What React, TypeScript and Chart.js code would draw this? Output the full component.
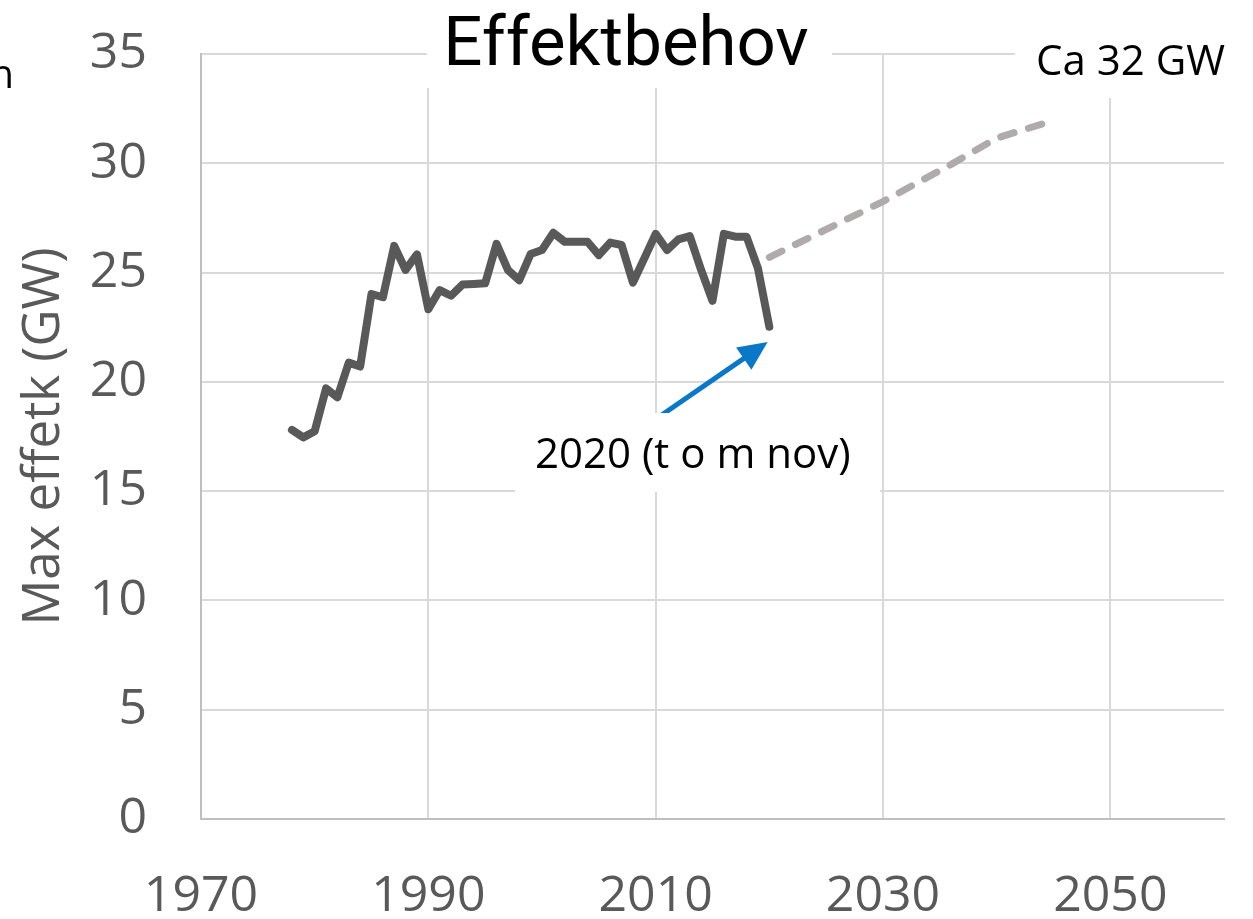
import React, { useEffect, useRef } from "react";
import { Chart, registerables } from "chart.js";

Chart.register(...registerables);

// ---------- data ----------
const histYears = [
  1978, 1979, 1980, 1981, 1982, 1983, 1984, 1985, 1986, 1987, 1988, 1989,
  1990, 1991, 1992, 1993, 1994, 1995, 1996, 1997, 1998, 1999, 2000, 2001,
  2002, 2003, 2004, 2005, 2006, 2007, 2008, 2009, 2010, 2011, 2012, 2013,
  2014, 2015, 2016, 2017, 2018, 2019, 2020,
];
const histValues = [
  17.8, 17.46, 17.74, 19.7, 19.29, 20.88, 20.7, 24.02, 23.87, 26.22, 25.12, 25.83,
  23.32, 24.2, 23.94, 24.45, 24.48, 24.51, 26.31, 25.12, 24.65, 25.85, 26.03, 26.82,
  26.41, 26.41, 26.41, 25.8, 26.37, 26.26, 24.54, 25.65, 26.77, 26.03, 26.52, 26.67,
  25.12, 23.71, 26.77, 26.64, 26.64, 25.19, 22.52,
];
const forecastYears = [2020, 2030, 2036, 2040, 2044];
const forecastValues = [25.7, 28.25, 29.95, 31.15, 31.8];

const xTickValues = [1970, 1990, 2010, 2030, 2050];
const xMin = 1970;
const xMax = 2060;
const yMin = 0;
const yMax = 35;
const yStep = 5;

const chartTitle = "Effektbehov";
const yAxisTitle = "Max effetk (GW)";
const forecastLabel = "Ca 32 GW";
const arrowLabel = "2020 (t o m nov)";
const croppedLabel = "n";
const arrowTail = { x: 2007.5, y: 17.4 };
const arrowTip = { x: 2019.85, y: 21.82 };

// ---------- styles ----------
const FONT = "'Open Sans', 'Noto Sans', sans-serif";
const AXIS_TEXT = "#595959";
const GRID = "#D9D9D9";
const AXIS_LINE = "#BFBFBF";

const overlayPlugin = {
  id: "overlay",
  afterDatasetsDraw(chart: any) {
    const { ctx } = chart;
    const xs = chart.scales.x;
    const ys = chart.scales.y;
    ctx.save();

    // arrow
    const x0 = xs.getPixelForValue(arrowTail.x);
    const y0 = ys.getPixelForValue(arrowTail.y);
    const x1 = xs.getPixelForValue(arrowTip.x);
    const y1 = ys.getPixelForValue(arrowTip.y);
    const ang = Math.atan2(y1 - y0, x1 - x0);
    const hl = 29;
    const hw = 13.5;
    const bx = x1 - hl * Math.cos(ang);
    const by = y1 - hl * Math.sin(ang);
    ctx.strokeStyle = "#0A78C8";
    ctx.fillStyle = "#0A78C8";
    ctx.lineWidth = 5;
    ctx.beginPath();
    ctx.moveTo(x0, y0);
    ctx.lineTo(bx + 2 * Math.cos(ang), by + 2 * Math.sin(ang));
    ctx.stroke();
    ctx.beginPath();
    ctx.moveTo(x1, y1);
    ctx.lineTo(bx - hw * Math.sin(ang), by + hw * Math.cos(ang));
    ctx.lineTo(bx + hw * Math.sin(ang), by - hw * Math.cos(ang));
    ctx.closePath();
    ctx.fill();

    // white label boxes
    ctx.fillStyle = "#FFFFFF";
    ctx.fillRect(427, 0, 405, 88);
    ctx.fillRect(1015, 0, 238, 98);
    ctx.fillRect(515, 413, 365, 79);

    // texts
    ctx.fillStyle = "#000000";
    ctx.textBaseline = "alphabetic";
    ctx.font = "69px Roboto, 'Open Sans', sans-serif";
    ctx.textAlign = "center";
    ctx.fillText(chartTitle, 626, 65);

    ctx.font = `42px ${FONT}`;
    ctx.textAlign = "right";
    ctx.fillText(forecastLabel, 1225, 75);
    ctx.textAlign = "left";
    ctx.fillText(arrowLabel, 535, 468);

    ctx.font = `40px ${FONT}`;
    ctx.textAlign = "right";
    ctx.fillText(croppedLabel, 14, 88);
    ctx.restore();
  },
};

export default function App() {
  const canvasRef = useRef<HTMLCanvasElement | null>(null);

  useEffect(() => {
    if (!canvasRef.current) return;
    const chart = new Chart(canvasRef.current, {
      type: "line",
      data: {
        datasets: [
          {
            label: "Historik",
            data: histYears.map((yr, i) => ({ x: yr, y: histValues[i] })),
            borderColor: "#595959",
            borderWidth: 8,
            pointRadius: 0,
            borderJoinStyle: "round",
            borderCapStyle: "round",
            tension: 0,
          },
          {
            label: "Prognos",
            data: forecastYears.map((yr, i) => ({ x: yr, y: forecastValues[i] })),
            borderColor: "#AFABAB",
            borderWidth: 7,
            borderDash: [14, 15],
            pointRadius: 0,
            borderJoinStyle: "round",
            borderCapStyle: "round",
            tension: 0,
          },
        ],
      },
      options: {
        animation: false,
        responsive: true,
        maintainAspectRatio: false,
        layout: { padding: { left: 0, top: 54, right: 29, bottom: 0 } },
        plugins: {
          legend: { display: false },
          tooltip: { enabled: false },
          title: { display: false },
        },
        scales: {
          x: {
            type: "linear",
            min: xMin,
            max: xMax,
            afterBuildTicks: (scale: any) => {
              scale.ticks = xTickValues.map((v) => ({ value: v }));
            },
            afterFit: (scale: any) => {
              scale.height = 100;
              scale.paddingLeft = 0;
              scale.paddingRight = 0;
            },
            grid: { color: GRID, lineWidth: 2, drawTicks: false },
            border: { color: AXIS_LINE, width: 2 },
            ticks: {
              color: AXIS_TEXT,
              font: { family: FONT, size: 50 },
              padding: 48,
              maxRotation: 0,
              autoSkip: false,
              callback: (v: any) => String(v),
            },
          },
          y: {
            type: "linear",
            min: yMin,
            max: yMax,
            afterFit: (scale: any) => {
              scale.width = 201;
              scale.paddingTop = 0;
              scale.paddingBottom = 0;
            },
            grid: { color: GRID, lineWidth: 2, drawTicks: false },
            border: { color: AXIS_LINE, width: 2 },
            ticks: {
              stepSize: yStep,
              color: AXIS_TEXT,
              font: { family: FONT, size: 50 },
              padding: 54,
            },
            title: {
              display: true,
              text: yAxisTitle,
              color: AXIS_TEXT,
              font: { family: FONT, size: 51 },
              padding: { top: 14, bottom: 0 },
            },
          },
        },
      },
      plugins: [overlayPlugin],
    } as any);
    return () => chart.destroy();
  }, []);

  return (
    <div
      style={{
        position: "fixed",
        left: 0,
        top: 0,
        width: 1253,
        height: 919,
        background: "#FFFFFF",
      }}
    >
      <canvas ref={canvasRef} />
    </div>
  );
}
